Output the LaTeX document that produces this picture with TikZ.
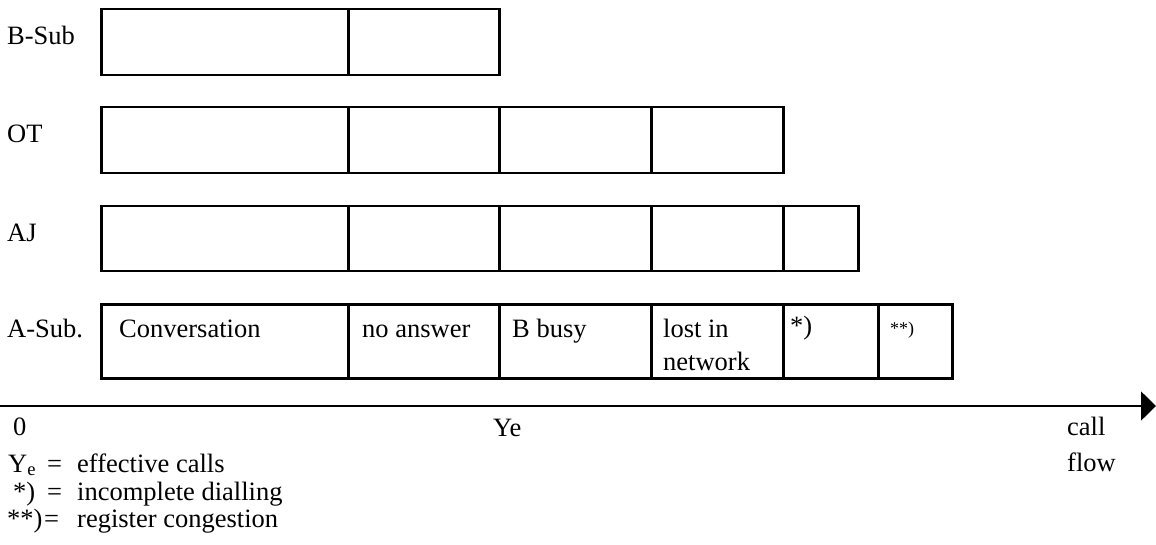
\documentclass[tikz,border=0pt]{standalone}
\usepackage{fontspec}
\setmainfont{Liberation Serif}
\usetikzlibrary{arrows.meta,calc}
\begin{document}
\begin{tikzpicture}[x=1pt,y=-1pt,
  cell/.style={draw,line width=2.5pt,rectangle,inner sep=0pt,anchor=north west},
  txt/.style={anchor=base west,inner sep=0pt,font=\fontsize{26.5}{30}\selectfont},
  small/.style={anchor=base west,inner sep=0pt,font=\fontsize{18}{21}\selectfont}]
\useasboundingbox (0,0) rectangle (1156,545);

% B-Sub row
\node[cell,minimum width=247,minimum height=66] (b1) at (100,8) {};
\node[cell,minimum width=151,minimum height=66] (b2) at (347,8) {};
% OT row
\node[cell,minimum width=247,minimum height=66] (o1) at (100,106) {};
\node[cell,minimum width=151,minimum height=66] (o2) at (347,106) {};
\node[cell,minimum width=152,minimum height=66] (o3) at (498,106) {};
\node[cell,minimum width=132,minimum height=66] (o4) at (650,106) {};
% AJ row
\node[cell,minimum width=247,minimum height=65] (j1) at (100,205) {};
\node[cell,minimum width=151,minimum height=65] (j2) at (347,205) {};
\node[cell,minimum width=152,minimum height=65] (j3) at (498,205) {};
\node[cell,minimum width=132,minimum height=65] (j4) at (650,205) {};
\node[cell,minimum width=75,minimum height=65] (j5) at (782,205) {};
% A-Sub row
\node[cell,minimum width=247,minimum height=74] (a1) at (100,303) {};
\node[cell,minimum width=151,minimum height=74] (a2) at (347,303) {};
\node[cell,minimum width=152,minimum height=74] (a3) at (498,303) {};
\node[cell,minimum width=132,minimum height=74] (a4) at (650,303) {};
\node[cell,minimum width=95,minimum height=74] (a5) at (782,303) {};
\node[cell,minimum width=74,minimum height=74] (a6) at (877,303) {};

% row labels
\node[txt] (lb) at (7,45) {B-Sub};
\node[txt] (lo) at (7,143) {OT};
\node[txt] (lj) at (7,242) {AJ};
\node[txt] (la) at (7,337) {A-Sub.};

% texts of the A-Sub cells
\node[txt] (t1) at ($(a1.north west)+(19,34)$) {Conversation};
\node[txt] (t2) at ($(a2.north west)+(15,34)$) {no answer};
\node[txt] (t3) at ($(a3.north west)+(14,34)$) {B busy};
\node[txt] (t4) at ($(a4.north west)+(13,34)$) {lost in};
\node[txt] (t4b) at ($(a4.north west)+(13,67)$) {network};
\node[txt] (t5) at ($(a5.north west)+(8,31)$) {*)};
\node[small] (t6) at ($(a6.north west)+(13,31)$) {**)};

% call flow axis
\coordinate (origin) at (0,406);
\coordinate (tip) at (1156,406);
\draw[line width=1.7pt,-{Triangle[length=15pt,width=29pt]}] (origin) -- (tip);
\node[txt] (zero) at (13,435) {0};
\node[txt] (ye) at (493,436) {Ye};
\node[txt] (call) at (1067,435) {call};
\node[txt] (flow) at (1067,471) {flow};

% legend
\node[txt] (k1) at (8,472) {Y\textsubscript{e}};
\node[txt] (k1e) at (47,472) {=};
\node[txt] (k1t) at (77,472) {effective calls};
\node[txt] (k2) at (13,500) {*)};
\node[txt] (k2e) at (47,500) {=};
\node[txt] (k2t) at (77,500) {incomplete dialling};
\node[txt] (k3) at (7,527) {**)};
\node[txt] (k3e) at (44,527) {=};
\node[txt] (k3t) at (77,527) {register congestion};
\end{tikzpicture}
\end{document}
